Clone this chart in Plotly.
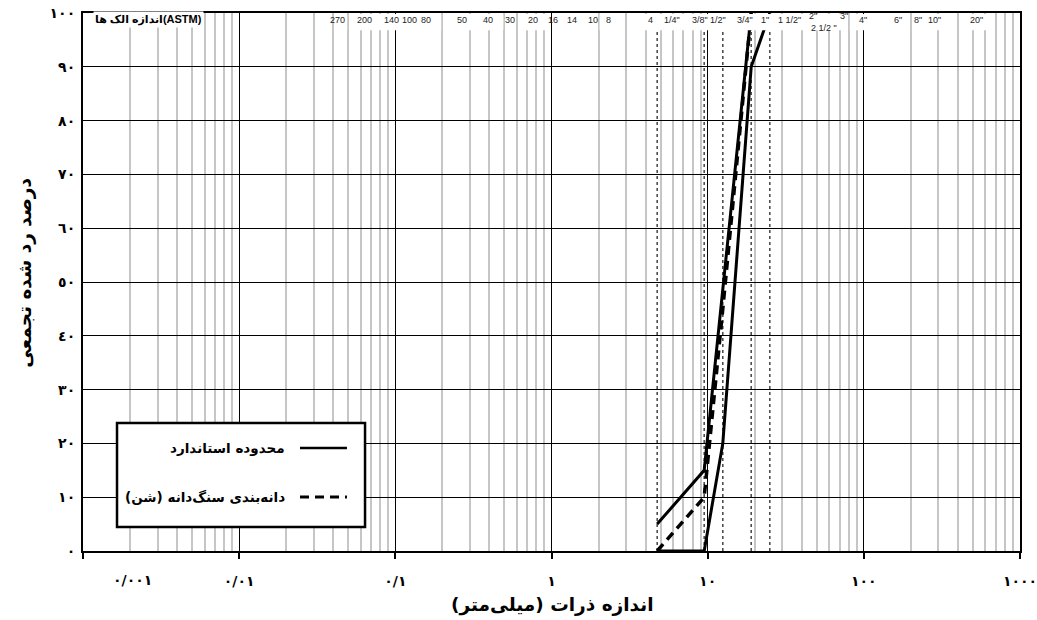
import math
import plotly.graph_objects as go

# ---------------- data ----------------
std_lower_mm = [4.75, 9.5, 12.5, 19, 25]
std_lower_pass = [0, 0, 20, 90, 100]
std_upper_mm = [4.75, 9.5, 19]
std_upper_pass = [5, 15, 100]
grad_mm = [4.75, 9.5, 12.5, 19]
grad_pass = [0, 10, 45, 100]

x_tick_vals = [0.001, 0.01, 0.1, 1, 10, 100, 1000]
x_tick_text = ["٠/٠٠١", "٠/٠١", "٠/١", "١", "١٠", "١٠٠", "١٠٠٠"]
y_tick_vals = [0, 10, 20, 30, 40, 50, 60, 70, 80, 90, 100]
y_tick_text = ["٠", "١٠", "٢٠", "٣٠", "٤٠", "٥٠", "٦٠", "٧٠", "٨٠", "٩٠", "١٠٠"]

astm_labels = ["270", "200", "140", "100", "80", "50", "40", "30", "20", "16", "14", "10", "8", "4",
               '1/4"', '3/8"', '1/2"', '3/4"', '1"', '1 1/2"', '2"', '2 1/2 "', '3"', '4"', '6"', '8"', '10"', '20"']
astm_mm = [0.053, 0.075, 0.106, 0.15, 0.18, 0.3, 0.425, 0.6, 0.85, 1.18, 1.4, 2.0, 2.36, 4.75,
           6.35, 9.5, 12.5, 19, 25, 37.5, 50, 63, 75, 100, 150, 200, 250, 500]
dotted_sieves_mm = [4.75, 9.5, 12.5, 19, 25]

name_std = "محدوده استاندارد"
name_grad = "دانه‌بندی سنگ‌دانه (شن)\u200f"
x_title = "اندازه ذرات (میلی‌متر)\u200f"
y_title = "درصد رد شده تجمعی"
astm_title = "اندازه الک ها(ASTM)"

# ---------------- style ----------------
XMIN, XMAX = -3, 3
AR = "DejaVu Sans"
# pixel nudges of the sieve labels relative to their sieve line
label_xshift = [-15, -11, -8, -13, -9, -8, -5, -7, -7, -10, -2, -6, -1, -7,
                -5, -4, -5, -6, -5, -8, -4, -8, 0, -1, 7, 7, 9, 4]


def px(v):
    return (math.log10(v) - XMIN) / (XMAX - XMIN)


minor_vals = [m * 10 ** e for e in range(-3, 3) for m in range(2, 10)]

fig = go.Figure()
fig.add_trace(go.Scatter(x=std_lower_mm, y=std_lower_pass, mode="lines",
                         line=dict(color="black", width=3), name=name_std, showlegend=False))
fig.add_trace(go.Scatter(x=std_upper_mm, y=std_upper_pass, mode="lines",
                         line=dict(color="black", width=3), name=name_std, showlegend=False))
fig.add_trace(go.Scatter(x=grad_mm, y=grad_pass, mode="lines",
                         line=dict(color="black", width=3.5, dash="9px,6px"), name=name_grad,
                         showlegend=False))

shapes = []
for v in dotted_sieves_mm:
    shapes.append(dict(type="line", xref="paper", yref="paper", x0=px(v), x1=px(v), y0=0, y1=1,
                       line=dict(color="#444", width=1.5, dash="dot"), layer="between"))

# white label band at the top (split where grid lines pass through)
band_gaps = [0.04, 0.05, 0.2, 0.5, 0.6, 1, 2, 3, 80, 200, 400]
edges = [0.036] + band_gaps + [650]
for a, b in zip(edges[:-1], edges[1:]):
    shapes.append(dict(type="rect", xref="paper", yref="y", x0=px(a) + 0.0012, x1=px(b) - 0.0012,
                       y0=96.8, y1=99.8, fillcolor="white", line=dict(width=0), layer="above"))

# custom RTL legend
L_X0, L_X1, L_Y0, L_Y1 = 0.0363, 0.301, 0.0446, 0.238
shapes.append(dict(type="rect", xref="paper", yref="paper", x0=L_X0, x1=L_X1, y0=L_Y0, y1=L_Y1,
                   fillcolor="white", line=dict(color="black", width=2.5), layer="above"))
shapes.append(dict(type="line", xref="paper", yref="paper", x0=0.2316, x1=0.2817, y0=0.1914, y1=0.1914,
                   line=dict(color="black", width=2.5), layer="above"))
shapes.append(dict(type="line", xref="paper", yref="paper", x0=0.2316, x1=0.2817, y0=0.1004, y1=0.1004,
                   line=dict(color="black", width=3, dash="9px,6px"), layer="above"))

ann = []
ann.append(dict(text="<b>" + name_std + "</b>", xref="paper", yref="paper", x=0.2177, y=0.1914,
                xanchor="right", yanchor="middle", showarrow=False, font=dict(family=AR, size=13.5, color="black")))
ann.append(dict(text="<b>" + name_grad + "</b>", xref="paper", yref="paper", x=0.2177, y=0.1004,
                xanchor="right", yanchor="middle", showarrow=False, font=dict(family=AR, size=13.5, color="black")))

for lab, mm, sh in zip(astm_labels, astm_mm, label_xshift):
    y = 0.987
    if lab in ('2"', '3"'):
        y = 0.995
    elif lab.startswith("2 1/2"):
        y = 0.973
    ann.append(dict(text=lab, xref="paper", yref="paper", x=px(mm), y=y, xanchor="center", yanchor="middle",
                    xshift=sh, showarrow=False,
                    font=dict(family="Liberation Sans", size=9, color="#222")))

ann.append(dict(text="<b>" + astm_title + "</b>", xref="paper", yref="paper", x=0.0107, y=0.987,
                xanchor="left", yanchor="middle", showarrow=False, bgcolor="white",
                font=dict(family="Liberation Sans, DejaVu Sans", size=11, color="black")))

ann.append(dict(text="<b>" + x_tick_text[0] + "</b>", xref="paper", yref="paper", x=0.0523, y=-0.054,
                xanchor="center", yanchor="middle", showarrow=False, font=dict(family=AR, size=14, color="black")))
ann.append(dict(text="<b>" + x_title + "</b>", xref="paper", yref="paper", x=0.5016, y=-0.1004,
                xanchor="center", yanchor="middle", showarrow=False, font=dict(family=AR, size=18.5, color="black")))
ann.append(dict(text="<b>" + y_title + "</b>", xref="paper", yref="paper", x=-0.0619, y=0.517,
                xanchor="center", yanchor="middle", textangle=-90, showarrow=False,
                font=dict(family=AR, size=18.5, color="black")))

fig.update_layout(
    width=1037, height=620,
    margin=dict(l=83, r=17, t=13, b=69, autoexpand=False),
    paper_bgcolor="white", plot_bgcolor="white",
    showlegend=False,
    shapes=shapes, annotations=ann,
    xaxis=dict(type="log", range=[XMIN, XMAX], automargin=False,
               tickmode="array", tickvals=x_tick_vals,
               ticktext=[""] + ["<b>" + t + "</b>" for t in x_tick_text[1:]],
               ticks="outside", ticklen=6, tickwidth=1.5, tickcolor="black",
               ticklabelstandoff=10, ticklabeloverflow="allow",
               tickfont=dict(family=AR, size=14, color="black"),
               showgrid=True, gridcolor="black", gridwidth=1,
               minor=dict(tickmode="array", tickvals=minor_vals, showgrid=True,
                          gridcolor="#c6c6c6", gridwidth=1.5, ticks=""),
               showline=True, linecolor="black", linewidth=2, mirror=True, zeroline=False),
    yaxis=dict(range=[0, 100], automargin=False, tickmode="array", tickvals=y_tick_vals,
               ticktext=["<b>" + t + "</b>" for t in y_tick_text],
               ticks="", ticklabelstandoff=3, ticklabeloverflow="allow",
               tickfont=dict(family=AR, size=14, color="black"),
               showgrid=True, gridcolor="black", gridwidth=1,
               showline=True, linecolor="black", linewidth=2, mirror=True, zeroline=False),
)

fig.write_html("out.html", config={"displayModeBar": False},
               post_script="document.body.style.margin='0';document.body.style.overflow='hidden';")
